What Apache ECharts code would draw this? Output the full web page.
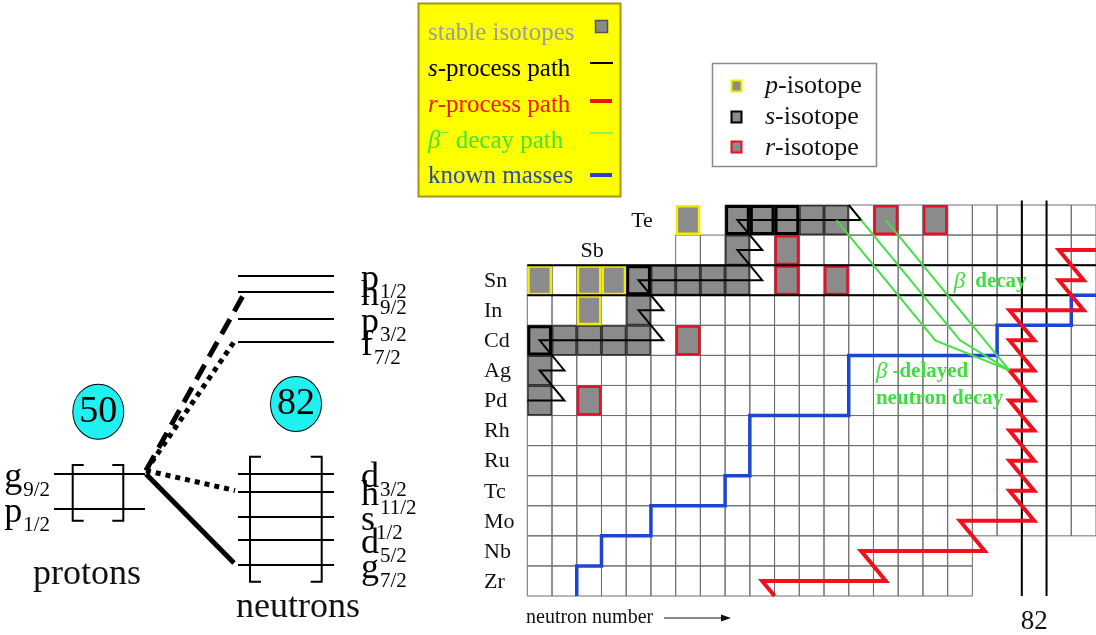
<!DOCTYPE html>
<html>
<head>
<meta charset="utf-8">
<title>r-process path near N=82</title>
<script src="https://cdn.jsdelivr.net/npm/echarts@6.0.0/dist/echarts.min.js"></script>
<style>
html,body{margin:0;padding:0;background:#ffffff;}
#chart{width:1096px;height:635px;}
</style>
</head>
<body>
<div id="chart"></div>
<script>
// ================= DATA =================
// Element rows of the nuclide chart (proton number Z)
const elementSymbols = ['Zr','Nb','Mo','Tc','Ru','Rh','Pd','Ag','Cd','In','Sn','Sb','Te'];
const elementZ       = [40, 41, 42, 43, 44, 45, 46, 47, 48, 49, 50, 51, 52];
// Drawn chart cells per row: [Z, first N, last N]
const chartRows = [
  [40,62,79],[41,62,79],[42,62,84],[43,62,84],[44,62,84],[45,62,84],
  [46,62,84],[47,62,84],[48,62,84],[49,62,84],[50,62,84],[51,68,84],[52,70,84]
];
// Stable isotopes: [N, Z, origin]   p = p-isotope, s = s-isotope, r = r-isotope, sr = mixed
const stableIsotopes = [
  [62,46,'sr'],[64,46,'r'],
  [62,47,'sr'],
  [62,48,'s'],[63,48,'sr'],[64,48,'sr'],[65,48,'sr'],[66,48,'sr'],[68,48,'r'],
  [64,49,'p'],[66,49,'sr'],
  [62,50,'p'],[64,50,'p'],[65,50,'p'],[66,50,'s'],[67,50,'sr'],[68,50,'sr'],[69,50,'sr'],[70,50,'sr'],[72,50,'r'],[74,50,'r'],
  [70,51,'sr'],[72,51,'r'],
  [68,52,'p'],[70,52,'s'],[71,52,'s'],[72,52,'s'],[73,52,'sr'],[74,52,'sr'],[76,52,'r'],[78,52,'r']
];
// Paths in (N, Z)
const sProcessPath = [[61.5,46],[63,46],[62,47],[63,47],[62,48],[67,48],[66,49],[67,49],[66,50],[71,50],[70,51],[71,51],[70,52],[75,52],[74.5,52.5]];
const rProcessPath = [[71.5,39.5],[71,40],[76,40],[75,41],[80,41],[79,42],[82,42],[81,43],[82,43],[81,44],[82,44],[81,45],[82,45],[81,46],[82,46],[81,47],[82,47],[81,48],[82,48],[81,49],[84,49],[83,50],[84,50],[83,51],[84.6,51]];
const knownMassesLimit = [[63.5,39.5],[63.5,40.5],[64.5,40.5],[64.5,41.5],[66.5,41.5],[66.5,42.5],[69.5,42.5],[69.5,43.5],[70.5,43.5],[70.5,45.5],[74.5,45.5],[74.5,47.5],[80.5,47.5],[80.5,48.5],[83.5,48.5],[83.5,49.5],[84.6,49.5]];
const betaDecayDirect = [[81,47],[76,52]];
const betaDelayedA    = [[81,47],[79,48],[75,52]];
const betaDelayedB    = [[81,47],[78,48],[74,52]];
const magicZ = 50;
const magicN = 82;

// Shell-model level scheme: [orbital, j, energy (arb. units)]
const protonLevels  = [['g','9/2',16.1],['p','1/2',12.6]];
const neutronLevels = [['p','1/2',35.9],['h','9/2',34.3],['p','3/2',31.6],['f','7/2',29.3],
                       ['d','3/2',16.1],['h','11/2',14.3],['s','1/2',11.8],['d','5/2',9.5],['g','7/2',7.0]];
// proton g9/2 -> neutron orbital couplings: [neutron level index, line kind]
const couplings = [[1,'dashed'],[3,'dotted'],[5,'dotted'],[8,'solid']];
const shellClosures = ['50','82'];

// ================= LAYOUT / STYLE =================
const FONT = "'Liberation Serif','Times New Roman',Times,serif";
const GRAY = '#8b8b8b';
const KIND_STYLE = {
  p:  {stroke:'#f2ec00', lw:2.5},
  s:  {stroke:'#000000', lw:3},
  r:  {stroke:'#e5102a', lw:2.5},
  sr: {stroke:'#333333', lw:1.5}
};
const N_MIN = Math.min(...chartRows.map(r => r[1])) - 0.5;
const N_MAX = Math.max(...chartRows.map(r => r[2])) + 0.5;
const Z_MIN = Math.min(...elementZ) - 0.5;
const Z_MAX = Math.max(...elementZ) + 0.5;
const ELEMENT_LABEL_N = {Te: 65.7, Sb: 63.65, _default: 59.75};
const DECAY_NOTES = [
  {n:78.75, z:49.95, greek:'β', text:'decay', gap:10},
  {n:75.6,  z:46.95, greek:'β', text:'-delayed', gap:5},
  {n:75.6,  z:46.05, greek:'',  text:'neutron decay', gap:0}
];
// level-scheme grid units (x 0..40, y 0..38.5)
const LEVEL_SPAN = {proton:[5.4,14.5], neutron:[23.8,33.4]};
const LEVEL_LABEL_X = {proton:5.0, neutron:36.1};
const LABEL_MAIN = 36, LABEL_SUB = 21;
const BRACKETS = [[7.27,12.33,11.43,17.0],[25.0,32.17,5.33,17.83]];
const CLOSURE_POS = [[9.83,22.33],[29.6,23.1]];
const COUPLING_START = 14.6;

const measureCtx = document.createElement('canvas').getContext('2d');
function textWidth(str, size) {
  measureCtx.font = size + 'px ' + FONT;
  return measureCtx.measureText(str).width;
}

const chart = echarts.init(document.getElementById('chart'), null, {renderer:'canvas'});

function lineSeries(data, color, width, z, extra) {
  return Object.assign({
    type:'line', xAxisIndex:0, yAxisIndex:0, data, z,
    symbol:'none', silent:true, animation:false,
    lineStyle:{color, width, cap:'butt', join:'miter'}
  }, extra || {});
}

const levelRows = protonLevels.map(l => ({side:'proton', l}))
  .concat(neutronLevels.map(l => ({side:'neutron', l})));

const series = [
  // chart cells
  {
    type:'custom', xAxisIndex:0, yAxisIndex:0, z:1, silent:true, animation:false,
    data: chartRows,
    renderItem(params, api) {
      const Z = api.value(0), n0 = api.value(1), n1 = api.value(2);
      const children = [];
      for (let n = n0; n <= n1; n++) {
        const a = api.coord([n - 0.5, Z + 0.5]), b = api.coord([n + 0.5, Z - 0.5]);
        children.push({type:'rect', shape:{x:a[0], y:a[1], width:b[0]-a[0], height:b[1]-a[1]},
          style:{fill:'none', stroke:'#6e6e6e', lineWidth:1}});
      }
      return {type:'group', children};
    }
  },
  // stable isotopes
  {
    type:'custom', xAxisIndex:0, yAxisIndex:0, z:2, silent:true, animation:false,
    data: stableIsotopes.map(d => [d[0], d[1]]),
    renderItem(params, api) {
      const kind = stableIsotopes[params.dataIndex][2];
      const st = KIND_STYLE[kind];
      const n = api.value(0), z = api.value(1);
      const a = api.coord([n - 0.5, z + 0.5]), b = api.coord([n + 0.5, z - 0.5]);
      const w = st.lw;
      return {type:'rect', shape:{x:a[0]+w/2, y:a[1]+w/2, width:b[0]-a[0]-w, height:b[1]-a[1]-w},
        style:{fill:GRAY, stroke:st.stroke, lineWidth:w}};
    }
  },
  // magic numbers
  lineSeries([[N_MIN, magicZ + 0.5],[N_MAX, magicZ + 0.5]], '#000', 2, 3),
  lineSeries([[N_MIN, magicZ - 0.5],[N_MAX, magicZ - 0.5]], '#000', 2, 3),
  lineSeries([[magicN - 0.5, Z_MIN],[magicN - 0.5, Z_MAX + 0.15]], '#000', 2, 3, {clip:false}),
  lineSeries([[magicN + 0.5, Z_MIN],[magicN + 0.5, Z_MAX + 0.15]], '#000', 2, 3, {clip:false}),
  // known masses
  lineSeries(knownMassesLimit, '#1a46d2', 3.5, 4),
  // s-process
  lineSeries(sProcessPath, '#000', 2, 5),
  // r-process
  lineSeries(rProcessPath, '#f0101e', 4, 6),
  // beta decays
  lineSeries(betaDecayDirect, '#44e044', 2, 7),
  lineSeries(betaDelayedA, '#44e044', 2, 7),
  lineSeries(betaDelayedB, '#44e044', 2, 7),
  // element labels
  {
    type:'custom', xAxisIndex:0, yAxisIndex:0, z:10, silent:true, animation:false,
    data: elementZ.map((z, i) => [ELEMENT_LABEL_N[elementSymbols[i]] ?? ELEMENT_LABEL_N._default, z]),
    renderItem(params, api) {
      const p = api.coord([api.value(0), api.value(1)]);
      return {type:'text', x:p[0], y:p[1] + 1, style:{text:elementSymbols[params.dataIndex], fontFamily:FONT, fontSize:22, fill:'#111', align:'left', verticalAlign:'middle'}};
    }
  },
  // decay notes
  {
    type:'custom', xAxisIndex:0, yAxisIndex:0, z:10, silent:true, animation:false,
    data: DECAY_NOTES.map(d => [d.n, d.z]),
    renderItem(params, api) {
      const d = DECAY_NOTES[params.dataIndex];
      const p = api.coord([api.value(0), api.value(1)]);
      const txt = (d.greek ? '{g|' + d.greek + '}' : '') + '{t|' + d.text + '}';
      return {type:'text', x:p[0], y:p[1], style:{text:txt, align:'left', verticalAlign:'middle',
        rich:{g:{fontFamily:FONT, fontSize:23, fontStyle:'italic', fill:'#40dc40'},
              t:{fontFamily:FONT, fontSize:21, fontWeight:'bold', fill:'#40dc40', padding:[0,0,0,d.gap]}}}};
    }
  },
  // magic N label under the axis
  {
    type:'custom', xAxisIndex:0, yAxisIndex:0, z:10, silent:true, animation:false,
    data: [[magicN, Z_MIN]],
    renderItem(params, api) {
      const p = api.coord([api.value(0), api.value(1)]);
      return {type:'text', x:p[0], y:p[1] + 26, style:{text:String(magicN), fontFamily:FONT, fontSize:27, fill:'#111', align:'center', verticalAlign:'middle'}};
    }
  },
  // ---- level scheme ----
  {
    type:'custom', xAxisIndex:1, yAxisIndex:1, z:3, silent:true, animation:false,
    data: levelRows.map(r => [LEVEL_SPAN[r.side][0], LEVEL_SPAN[r.side][1], r.l[2]]),
    renderItem(params, api) {
      const row = levelRows[params.dataIndex];
      const E = api.value(2);
      const a = api.coord([api.value(0), E]), b = api.coord([api.value(1), E]);
      const lp = api.coord([LEVEL_LABEL_X[row.side], E]);
      const wm = textWidth(row.l[0], LABEL_MAIN), ws = textWidth(row.l[1], LABEL_SUB);
      const x0 = row.side === 'proton' ? lp[0] - wm - ws - 1 : lp[0];
      return {type:'group', children:[
        {type:'line', shape:{x1:a[0], y1:a[1], x2:b[0], y2:b[1]}, style:{stroke:'#000', lineWidth:2}},
        {type:'text', x:x0, y:lp[1] + 4, style:{text:row.l[0], fontFamily:FONT, fontSize:LABEL_MAIN, fill:'#000', align:'left', verticalAlign:'middle'}},
        {type:'text', x:x0 + wm + 1, y:lp[1] + 16, style:{text:row.l[1], fontFamily:FONT, fontSize:LABEL_SUB, fill:'#000', align:'left', verticalAlign:'middle'}}
      ]};
    }
  },
  {
    type:'custom', xAxisIndex:1, yAxisIndex:1, z:3, silent:true, animation:false,
    data: BRACKETS,
    renderItem(params, api) {
      const x0 = api.value(0), x1 = api.value(1), yb = api.value(2), yt = api.value(3);
      const t = 1.1;
      const L = [[x0 + t, yt],[x0, yt],[x0, yb],[x0 + t, yb]].map(q => api.coord(q));
      const R = [[x1 - t, yt],[x1, yt],[x1, yb],[x1 - t, yb]].map(q => api.coord(q));
      return {type:'group', children:[
        {type:'polyline', shape:{points:L}, style:{stroke:'#000', lineWidth:2, fill:'none'}},
        {type:'polyline', shape:{points:R}, style:{stroke:'#000', lineWidth:2, fill:'none'}}
      ]};
    }
  },
  // shell-closure circles
  {
    type:'scatter', xAxisIndex:1, yAxisIndex:1, z:4, silent:true, animation:false,
    data: shellClosures.map((name, i) => ({name, value:CLOSURE_POS[i]})),
    symbol:'circle', symbolSize:[51,55],
    itemStyle:{color:'#1ff0f0', borderColor:'#000', borderWidth:1, opacity:1},
    label:{show:true, position:'inside', formatter:'{b}', fontFamily:FONT, fontSize:38, color:'#000'}
  }
];

// coupling lines from proton g9/2
const DASH = {dashed:[17,9], dotted:[5,5], solid:'solid'};
const COUPLING_END = {dashed:[24.5,0], dotted:[23.5,0.15], solid:[23.4,0.2]};
couplings.forEach(([idx, kind]) => {
  const Ep = protonLevels[0][2];
  const En = neutronLevels[idx][2];
  const startE = kind === 'solid' ? Ep : Ep + 0.35;
  const end = COUPLING_END[kind];
  series.push({
    type:'line', xAxisIndex:1, yAxisIndex:1, z:4, silent:true, animation:false, symbol:'none',
    data:[[COUPLING_START, startE],[end[0], En + end[1]]],
    lineStyle:{color:'#000', width:5, type:DASH[kind], cap:'butt'}
  });
});

const LEG = 25;
const graphic = [
  // legend 1
  {type:'rect', shape:{x:418.5, y:3.5, width:202, height:193}, style:{fill:'#ffff00', stroke:'#a8921a', lineWidth:2}},
  {type:'text', x:428, y:33, style:{text:'stable isotopes', fontFamily:FONT, fontSize:LEG, fill:'#9d9d9d', align:'left', verticalAlign:'middle'}},
  {type:'text', x:428, y:69, style:{text:'{i|s}{n|-process path}', align:'left', verticalAlign:'middle',
    rich:{i:{fontFamily:FONT, fontSize:LEG, fontStyle:'italic', fill:'#000'}, n:{fontFamily:FONT, fontSize:LEG, fill:'#000'}}}},
  {type:'text', x:428, y:105, style:{text:'{i|r}{n|-process path}', align:'left', verticalAlign:'middle',
    rich:{i:{fontFamily:FONT, fontSize:LEG, fontStyle:'italic', fill:'#ee1a1a'}, n:{fontFamily:FONT, fontSize:LEG, fill:'#ee1a1a'}}}},
  {type:'text', x:428, y:141, style:{text:'{i|β}{u|−}{n| decay path}', align:'left', verticalAlign:'middle',
    rich:{i:{fontFamily:FONT, fontSize:LEG, fontStyle:'italic', fill:'#3ee63e'},
          u:{fontFamily:FONT, fontSize:16, fill:'#3ee63e', padding:[0,0,14,0]},
          n:{fontFamily:FONT, fontSize:LEG, fill:'#3ee63e'}}}},
  {type:'text', x:428, y:176, style:{text:'known masses', fontFamily:FONT, fontSize:LEG, fill:'#2a4aa6', align:'left', verticalAlign:'middle'}},
  {type:'rect', shape:{x:595.5, y:20.5, width:12, height:12}, style:{fill:GRAY, stroke:'#555', lineWidth:1.5}},
  {type:'line', shape:{x1:590, y1:63, x2:613, y2:63}, style:{stroke:'#000', lineWidth:2}},
  {type:'line', shape:{x1:590, y1:101, x2:612, y2:101}, style:{stroke:'#ee1111', lineWidth:4}},
  {type:'line', shape:{x1:590, y1:133, x2:613, y2:133}, style:{stroke:'#66ee66', lineWidth:1.5}},
  {type:'line', shape:{x1:590, y1:175, x2:612, y2:175}, style:{stroke:'#2244cc', lineWidth:4}},
  // legend 2
  {type:'rect', shape:{x:712.5, y:63.5, width:164, height:103}, style:{fill:'#fff', stroke:'#8a8a8a', lineWidth:1.5}},
  {type:'rect', shape:{x:731.5, y:80.5, width:10, height:11}, style:{fill:GRAY, stroke:'#f2ec00', lineWidth:2}},
  {type:'rect', shape:{x:731.5, y:111.5, width:10, height:11}, style:{fill:GRAY, stroke:'#000', lineWidth:2}},
  {type:'rect', shape:{x:731.5, y:141.5, width:10, height:11}, style:{fill:GRAY, stroke:'#e5102a', lineWidth:2}},
  {type:'text', x:765, y:86, style:{text:'{i|p}{n|-isotope}', align:'left', verticalAlign:'middle',
    rich:{i:{fontFamily:FONT, fontSize:26, fontStyle:'italic', fill:'#111'}, n:{fontFamily:FONT, fontSize:26, fill:'#111'}}}},
  {type:'text', x:765, y:117, style:{text:'{i|s}{n|-isotope}', align:'left', verticalAlign:'middle',
    rich:{i:{fontFamily:FONT, fontSize:26, fontStyle:'italic', fill:'#111'}, n:{fontFamily:FONT, fontSize:26, fill:'#111'}}}},
  {type:'text', x:765, y:148, style:{text:'{i|r}{n|-isotope}', align:'left', verticalAlign:'middle',
    rich:{i:{fontFamily:FONT, fontSize:26, fontStyle:'italic', fill:'#111'}, n:{fontFamily:FONT, fontSize:26, fill:'#111'}}}},
  // axis caption
  {type:'text', x:526, y:618, style:{text:'neutron number', fontFamily:FONT, fontSize:20, fill:'#111', align:'left', verticalAlign:'middle'}},
  {type:'line', shape:{x1:664, y1:618, x2:724, y2:618}, style:{stroke:'#111', lineWidth:1.2}},
  {type:'polygon', shape:{points:[[721,614.5],[731,618],[721,621.5]]}, style:{fill:'#111'}},
  // level-scheme captions
  {type:'text', x:87, y:575, style:{text:'protons', fontFamily:FONT, fontSize:36, fill:'#111', align:'center', verticalAlign:'middle'}},
  {type:'text', x:298, y:608, style:{text:'neutrons', fontFamily:FONT, fontSize:36, fill:'#111', align:'center', verticalAlign:'middle'}}
];

chart.setOption({
  animation:false,
  backgroundColor:'#ffffff',
  grid:[
    {left:527.3, top:205, width:(N_MAX - N_MIN) * 25.17, height:391},
    {left:0, top:250, width:400, height:385}
  ],
  xAxis:[
    {gridIndex:0, type:'value', min:N_MIN, max:N_MAX, show:false},
    {gridIndex:1, type:'value', min:0, max:40, show:false}
  ],
  yAxis:[
    {gridIndex:0, type:'value', min:Z_MIN, max:Z_MAX, show:false},
    {gridIndex:1, type:'value', min:0, max:38.5, show:false}
  ],
  series,
  graphic
});
</script>
</body>
</html>
